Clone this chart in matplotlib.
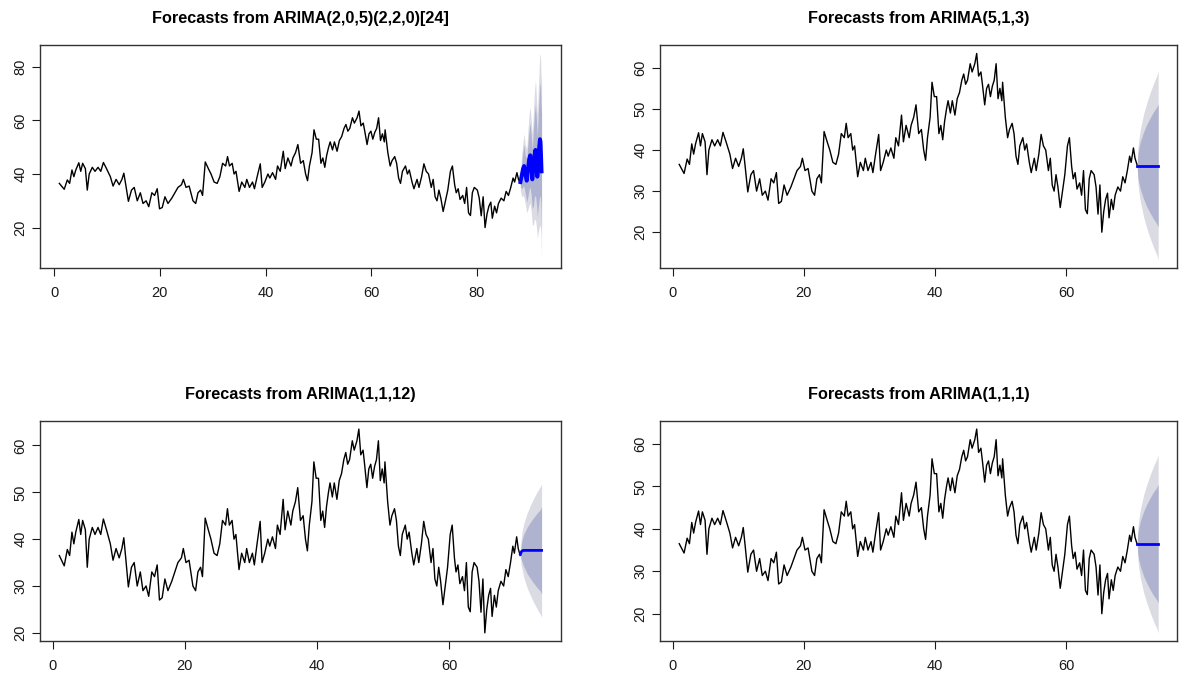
import matplotlib
matplotlib.use("Agg")
import matplotlib.pyplot as plt
import numpy as np

plt.rcParams['font.family'] = ['Liberation Sans', 'DejaVu Sans']

# observed series, weekly time index (frequency 30)
week = [1.0, 1.34, 1.74, 2.21, 2.56, 2.91, 3.20, 3.49, 3.95, 4.24, 4.53, 4.94, 5.23, 5.52,
        5.99, 6.40, 6.86, 7.27, 7.67, 8.14, 8.72, 9.13, 9.59, 10.06, 10.47, 10.76, 11.05,
        11.45, 11.92, 12.33, 12.79, 13.26, 13.66, 14.13, 14.53, 15.0, 15.41, 15.81, 16.16,
        16.57, 16.98, 17.44, 18.02, 18.49, 18.95, 19.48, 19.77, 20.17, 20.64, 21.22, 21.63,
        21.98, 22.38, 22.67, 23.08, 23.55, 23.95, 24.42, 24.88, 25.29, 25.70, 26.16, 26.45,
        26.74, 27.15, 27.44, 27.73, 28.20, 28.60, 29.07, 29.36, 29.77, 30.23, 30.52, 30.93,
        31.40, 31.69, 32.09, 32.56, 32.85, 33.26, 33.72, 34.01, 34.42, 34.88, 35.17, 35.58,
        36.05, 36.34, 36.74, 37.09, 37.50, 37.91, 38.26, 38.55, 38.84, 39.24, 39.53, 39.88,
        40.23, 40.58, 40.87, 41.16, 41.45, 41.74, 41.98, 42.33, 42.62, 43.02, 43.37, 43.72,
        44.07, 44.36, 44.65, 44.94, 45.35, 45.64, 46.05, 46.34, 46.63, 46.98, 47.21, 47.56,
        47.85, 48.14, 48.43, 48.72, 49.01, 49.30, 49.59, 49.88, 50.17, 50.29, 50.70, 51.05,
        51.34, 51.74, 52.03, 52.33, 52.62, 52.91, 53.37, 53.66, 53.95, 54.36, 54.65, 55.12,
        55.41, 55.81, 56.16, 56.51, 56.86, 57.27, 57.56, 57.85, 58.14, 58.43, 58.72, 59.07,
        59.42, 59.77, 60.17, 60.47, 60.81, 61.05, 61.34, 61.63, 62.03, 62.33, 62.62, 62.91,
        63.20, 63.49, 63.78, 64.24, 64.53, 64.83, 65.12, 65.41, 65.70, 65.99, 66.28, 66.51,
        66.86, 67.15, 67.44, 67.85, 68.26, 68.60, 68.95, 69.30, 69.65, 69.88, 70.23, 70.47,
        70.76]
price = [36.5, 35.5, 34.3, 37.8, 36.5, 41.5, 39, 41.5, 44.2, 41, 44, 42, 34, 40,
         42.5, 41, 42.5, 41, 44.3, 42, 39, 35.5, 38, 36, 38, 40.3, 36,
         29.8, 34, 35, 30, 33, 29, 30, 27.8, 33, 32, 34.5, 27,
         27.5, 31.5, 29, 31, 33, 35, 36, 38, 35, 35.5, 30, 29,
         33, 34, 32, 44.5, 42, 40, 37, 36.5, 39, 44, 43, 46.5,
         43, 44, 40, 41, 33.5, 37, 35, 38, 35, 37, 34.5, 39,
         43.8, 35, 37, 40, 38.5, 40.5, 38, 43, 41, 48.5, 42, 46,
         43, 46, 48, 51, 44, 45, 40, 37.5, 43, 48, 56.5, 53,
         53, 44, 46, 42.5, 47, 50, 52, 49, 52, 48.5, 52.5, 54,
         57, 58.5, 56, 57, 61, 59, 61, 63.5, 58, 59, 56, 51,
         55, 56, 53, 55.5, 57, 61, 52.5, 55, 52, 56.5, 48, 43,
         45, 46.5, 44, 38.5, 36.5, 41, 43, 40, 41.5, 37, 34.5, 38,
         35, 39, 43.8, 41, 40, 35, 38, 31.5, 30, 34, 31, 26,
         30, 34, 41, 43, 36, 33, 34.5, 30.5, 32, 29, 35, 25.5,
         24.5, 33, 35, 34, 31, 24.4, 31.5, 20, 25, 28, 29.5, 23.5,
         28, 25.5, 29, 31, 30, 33.5, 32, 35, 38.5, 37, 40.5, 38,
         36.5]

# seasonal ARIMA(2,0,5)(2,2,0)[24] forecast (frequency 24 time index)
s_time = [88.2, 88.45, 88.7, 88.9, 89.1, 89.4, 89.65, 89.85, 90.05, 90.25, 90.45,
          90.65, 90.85, 91.05, 91.25, 91.4, 91.55, 91.75, 91.9, 92.0, 92.1, 92.2]
s_mean = [37, 39.5, 42, 43, 40, 37.5, 42, 45.5, 47, 43, 38,
          42, 47, 49, 44, 39, 44, 50, 53, 52, 47, 41]
s_hi95 = [40, 47.5, 52, 55, 51, 49.5, 57, 62.5, 65, 60, 55,
          63, 71, 75, 68, 62, 70, 80, 85, 84, 77, 74]
s_lo95 = [34, 31.5, 32, 31, 29, 25.5, 27, 28.5, 29, 26, 21,
          21, 23, 23, 20, 16, 18, 20, 21, 20, 17, 8]
s_hi80 = [39, 44.5, 48.5, 51, 47, 45.5, 52, 56.5, 59, 54, 49,
          56, 62.5, 66, 59.5, 54, 61, 69.5, 74, 73, 66.5, 62.5]
s_lo80 = [35, 34.5, 35.5, 35, 33, 29.5, 32, 34.5, 35, 32, 27,
          28, 31.5, 32, 28.5, 24, 27, 30.5, 32, 31, 27.5, 19.5]

# non-seasonal forecasts (weekly index)
f_time = [70.8, 70.9, 71.05, 71.3, 71.8, 72.3, 72.8, 73.3, 73.8, 74.0]

m513 = [36.2] * 10
hi95_513 = [36.2, 40.2, 42.6, 45.2, 48.9, 51.7, 54.1, 56.2, 58.1, 59.2]
lo95_513 = [36.2, 32.3, 29.9, 27.3, 23.6, 20.8, 18.4, 16.3, 14.4, 13.3]
hi80_513 = [36.2, 38.9, 40.4, 42.1, 44.5, 46.4, 47.9, 49.3, 50.5, 51.2]
lo80_513 = [36.2, 33.6, 32.1, 30.4, 28.0, 26.1, 24.6, 23.2, 22.0, 21.2]

m1112 = [36.8, 37.2, 37.5, 37.6, 37.6, 37.6, 37.6, 37.6, 37.6, 37.6]
hi95_1112 = [36.8, 39.8, 41.5, 43.3, 45.5, 47.2, 48.7, 50.0, 51.2, 51.8]
lo95_1112 = [36.8, 34.6, 33.6, 31.9, 29.7, 28.0, 26.5, 25.2, 24.0, 23.3]
hi80_1112 = [36.8, 38.6, 39.8, 41.0, 42.5, 43.6, 44.6, 45.5, 46.3, 46.9]
lo80_1112 = [36.8, 35.8, 35.2, 34.2, 32.7, 31.6, 30.6, 29.7, 28.9, 28.3]

m111 = [36.5] * 10
hi95_111 = [36.5, 40.2, 42.3, 44.7, 48.1, 50.6, 52.8, 54.8, 56.5, 57.5]
lo95_111 = [36.5, 32.8, 30.7, 28.3, 24.9, 22.4, 20.2, 18.2, 16.5, 15.5]
hi80_111 = [36.5, 38.9, 40.3, 41.9, 44.2, 45.9, 47.4, 48.7, 49.8, 50.5]
lo80_111 = [36.5, 34.1, 32.7, 31.1, 28.8, 27.1, 25.6, 24.3, 23.2, 22.5]

LIGHT = '#dbdbe4'
DARK = '#afb3d0'
BLUE = '#0000ff'

fig = plt.figure(figsize=(11.81, 6.75), dpi=100)


def r_lim(values):
    lo, hi = min(values), max(values)
    pad = 0.04 * (hi - lo)
    return lo - pad, hi + pad


def panel(rect, title, t, y, ft, mean, lo95, hi95, lo80, hi80, yticks, lw_fc=2):
    ax = fig.add_axes(rect)
    ax.fill_between(ft, lo95, hi95, color=LIGHT, lw=0)
    ax.fill_between(ft, lo80, hi80, color=DARK, lw=0)
    ax.plot(t, y, color='black', lw=1.0)
    ax.plot(ft, mean, color=BLUE, lw=lw_fc)
    ax.set_xlim(*r_lim(list(t) + list(ft)))
    ax.set_ylim(*r_lim(list(y) + list(lo95) + list(hi95)))
    xt = [v for v in range(0, 100, 20) if v <= ax.get_xlim()[1]]
    ax.set_xticks(xt)
    ax.set_yticks(yticks)
    ax.set_yticklabels([str(v) for v in yticks], rotation=90, va='center')
    ax.tick_params(direction='out', length=6, width=0.8, labelsize=10.5,
                   colors='#1a1a1a', pad=3)
    ax.tick_params(axis='x', pad=7)
    for sp in ax.spines.values():
        sp.set_color('#333333')
        sp.set_linewidth(1.0)
    ax.set_title(title, fontsize=11.7, fontweight='bold', pad=16)
    return ax


# seasonal model uses a frequency-24 index of the same observations
t24 = [1 + (w - 1) * 30 / 24 for w in week]

panel([0.0339, 0.603, 0.441, 0.330], 'Forecasts from ARIMA(2,0,5)(2,2,0)[24]',
      t24, price, s_time, s_mean, s_lo95, s_hi95, s_lo80, s_hi80,
      [20, 40, 60, 80], lw_fc=2.8)
panel([0.5589, 0.603, 0.438, 0.330], 'Forecasts from ARIMA(5,1,3)',
      week, price, f_time, m513, lo95_513, hi95_513, lo80_513, hi80_513,
      [20, 30, 40, 50, 60])
panel([0.0339, 0.0504, 0.441, 0.326], 'Forecasts from ARIMA(1,1,12)',
      week, price, f_time, m1112, lo95_1112, hi95_1112, lo80_1112, hi80_1112,
      [20, 30, 40, 50, 60])
panel([0.5589, 0.0504, 0.438, 0.326], 'Forecasts from ARIMA(1,1,1)',
      week, price, f_time, m111, lo95_111, hi95_111, lo80_111, hi80_111,
      [20, 30, 40, 50, 60])

fig.savefig('out.png', dpi=100)
